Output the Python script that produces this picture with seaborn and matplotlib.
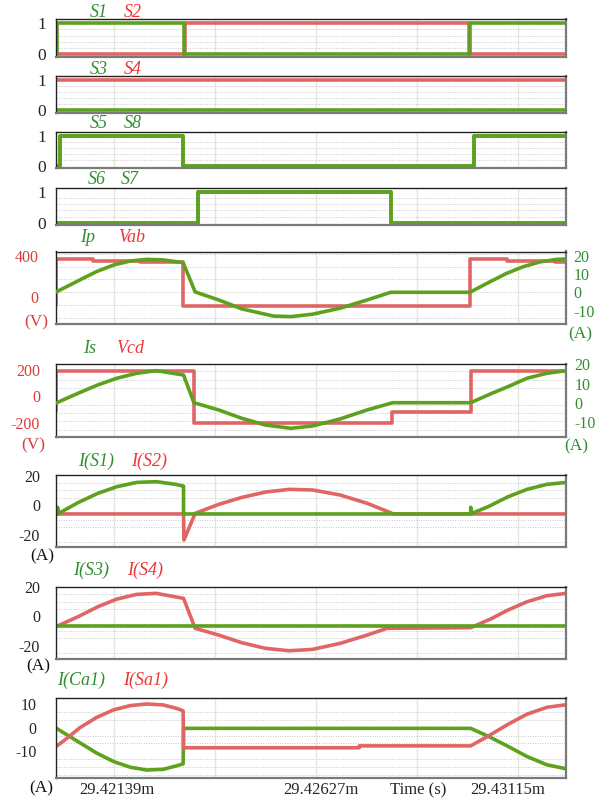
import matplotlib
matplotlib.use("Agg")
import matplotlib.pyplot as plt
from matplotlib.ticker import MultipleLocator, FixedLocator
from matplotlib.transforms import ScaledTranslation
import pandas as pd
import seaborn as sns

# ---------------- data (time in microseconds after 29.42 ms) ----------------
time_ticks = [1.405, 3.84, 6.28, 8.72, 11.16]
time_tick_labels = ["29.42139m", "", "29.42627m", "Time (s)", "29.43115m"]

# gate signals: value is held until the next time stamp
s1_t = [0.0, 0.03, 3.09, 10.00, 12.33]
s1_v = [0, 1, 0, 1, 1]
s2_t = [0.0, 0.005, 3.13, 9.97, 12.33]
s2_v = [1, 0, 1, 0, 0]
s3_t = [0.0, 12.33]
s3_v = [0, 0]
s4_t = [0.0, 12.33]
s4_v = [1, 1]
s5_t = [0.0, 0.11, 3.08, 10.10, 12.33]
s5_v = [0, 1, 0, 1, 1]
s8_t = [0.0, 0.11, 3.08, 10.10, 12.33]
s8_v = [0, 1, 0, 1, 1]
s6_t = [0.0, 3.43, 8.09, 12.33]
s6_v = [0, 1, 0, 0]
s7_t = [0.0, 3.43, 8.09, 12.33]
s7_v = [0, 1, 0, 0]

# primary bridge voltage (V, stepped) and primary current (A)
vab_t = [0.0, 0.02, 0.91, 2.04, 3.08, 10.00, 10.89, 12.06, 12.33]
vab_v = [-88, 368, 351, 336, -88, 368, 351, 336, 336]
ip_t = [0.0, 0.35, 0.67, 0.99, 1.40, 1.80, 2.20, 2.60, 3.08, 3.37, 3.94, 4.50,
        5.26, 5.68, 6.20, 6.87, 7.52, 8.09, 10.00, 10.49, 10.89, 11.29, 11.69,
        12.10, 12.33]
ip_v = [0.0, 4.0, 7.7, 11.3, 14.9, 17.1, 18.0, 17.7, 16.2, 0.2, -4.2, -9.1,
        -13.0, -13.3, -12.0, -8.7, -4.2, 0.0, 0.0, 5.8, 10.4, 14.0, 16.6,
        18.0, 18.2]

# secondary bridge voltage (V, stepped) and secondary current (A)
vcd_t = [0.0, 0.02, 3.345, 8.12, 10.02, 12.33]
vcd_v = [-116, 191, -204, -116, 191, 191]
is_t = [0.0, 0.54, 1.02, 1.48, 1.96, 2.43, 3.09, 3.34, 3.94, 4.50, 5.07, 5.68,
        6.20, 6.87, 7.52, 8.14, 10.02, 10.53, 10.92, 11.38, 11.86, 12.33]
is_v = [-0.3, 4.9, 9.3, 12.8, 15.4, 16.8, 14.5, 0.0, -3.8, -8.2, -11.7, -13.4,
        -12.2, -8.5, -3.8, 0.0, 0.0, 4.9, 8.4, 12.8, 15.4, 16.8]

# switch currents (A)
i_s1_t = [0.0, 0.05, 0.05, 0.07, 0.54, 1.02, 1.48, 1.96, 2.43, 2.90, 3.04,
          3.09, 3.09, 10.02, 10.02, 10.04, 10.44, 10.92, 11.38, 11.86, 12.33]
i_s1_v = [-5.9, -5.9, -1.4, -5.6, 1.7, 8.0, 12.5, 15.4, 15.9, 14.1, 13.2,
          12.9, -5.9, -5.9, -1.4, -5.6, -1.0, 5.7, 10.7, 14.1, 15.4]
i_s2_t = [0.0, 3.09, 3.10, 3.37, 3.94, 4.50, 5.07, 5.64, 6.20, 6.87, 7.52,
          8.09, 8.15, 12.33]
i_s2_v = [-5.9, -5.9, -23.5, -5.5, 0.6, 5.3, 8.9, 10.7, 10.3, 6.9, 1.3,
          -5.1, -5.9, -5.9]
i_s3_t = [0.0, 12.33]
i_s3_v = [-6.4, -6.4]
i_s4_t = [0.0, 0.54, 1.02, 1.48, 1.96, 2.43, 3.09, 3.37, 3.94, 4.50, 5.07,
          5.64, 6.20, 6.87, 7.52, 8.00, 10.02, 10.53, 10.92, 11.38, 11.86, 12.33]
i_s4_v = [-7.1, -0.3, 6.5, 11.7, 14.9, 15.6, 12.2, -8.1, -12.7, -17.9, -21.7,
          -23.3, -22.4, -18.3, -12.7, -8.1, -7.7, -1.4, 4.3, 9.9, 14.0, 15.6]

# auxiliary capacitor / switch currents (A)
i_ca1_t = [0.0, 0.19, 0.59, 0.99, 1.40, 1.80, 2.20, 2.60, 2.93, 3.08, 3.09,
           10.02, 10.44, 10.92, 11.38, 11.86, 12.33]
i_ca1_v = [0.0, -2.1, -6.4, -10.7, -14.3, -16.7, -17.9, -17.6, -16.1, -15.3,
           -0.3, -0.3, -3.6, -7.9, -12.2, -15.7, -17.4]
i_sa1_t = [0.0, 0.19, 0.59, 0.99, 1.40, 1.80, 2.20, 2.60, 2.93, 3.08, 3.09,
           7.33, 7.33, 10.02, 10.44, 10.92, 11.38, 11.86, 12.33]
i_sa1_v = [-8.1, -5.7, 0.0, 4.3, 7.5, 9.3, 10.0, 9.6, 8.1, 7.1, -8.5,
           -8.5, -7.7, -7.7, -3.6, 1.4, 5.7, 8.6, 9.7]

# ---------------- styling ----------------
sns.set_theme(style="white")
plt.rcParams["font.family"] = ["Liberation Serif", "DejaVu Serif"]

GREEN = "#5ea11f"
RED = "#e06666"
TXT_GREEN = "#2f8f2f"
TXT_RED = "#ee3535"
AX_RED = "#dd3b3b"
W_PX, H_PX = 612, 800
X0, X1 = 55.5, 566.4
XLIM = (0.0, 12.33)
LW = 2.6
TICK_FS = 11.5

fig = plt.figure(figsize=(W_PX / 100, H_PX / 100), dpi=100)
fig.patch.set_facecolor("white")


def make_axes(top, bottom):
    ax = fig.add_axes([X0 / W_PX, 1 - bottom / H_PX,
                       (X1 - X0) / W_PX, (bottom - top) / H_PX])
    ax.set_facecolor("white")
    ax.set_xlim(*XLIM)
    ax.xaxis.set_major_locator(FixedLocator(time_ticks))
    ax.set_xticklabels(time_tick_labels)
    ax.grid(axis="x", which="major", color="#e4e9dc", lw=1.0, ls="-")
    ax.tick_params(axis="both", which="both", length=0, labelsize=TICK_FS,
                   labelbottom=False)
    for side in ("top", "left"):
        ax.spines[side].set_color("#222222")
        ax.spines[side].set_linewidth(1.0)
    for side in ("right", "bottom"):
        ax.spines[side].set_color("#7a7a7a")
        ax.spines[side].set_linewidth(1.6)
    ax.set_axisbelow(True)
    return ax


def hgrid(ax, locator):
    ax.yaxis.set_minor_locator(locator)
    ax.grid(axis="y", which="minor", color="#c8c8c8", lw=0.7, ls=(0, (1, 1.5)))
    ax.grid(axis="y", which="major", visible=False)
    ax.tick_params(axis="y", which="minor", length=0)


def trace(ax, t, v, color, step=False, z=2):
    df = pd.DataFrame({"t": t, "v": v})
    sns.lineplot(data=df, x="t", y="v", ax=ax, color=color, lw=LW,
                 estimator=None, sort=False, legend=False, zorder=z,
                 solid_joinstyle="round", solid_capstyle="butt",
                 drawstyle="steps-post" if step else "default")
    ax.set_xlabel("")
    ax.set_ylabel("")


def label(x, y, s, color, size=13, style="italic"):
    fig.text(x / W_PX, 1 - y / H_PX, s, color=color, fontsize=size,
             style=style, ha="center", va="center")


def twin_right(ax, ylim, ticks, pad):
    axr = ax.twinx()
    axr.set_ylim(*ylim)
    axr.set_yticks(ticks)
    axr.set_yticklabels([str(k) for k in ticks])
    axr.tick_params(axis="y", which="both", length=0, pad=pad,
                    labelsize=TICK_FS, labelcolor=TXT_GREEN)
    axr.grid(False)
    for s in axr.spines.values():
        s.set_visible(False)
    return axr


# ---------- gate signal panels ----------
gate_panels = [
    ((18.7, 56.7), (-0.088, 1.15), [(s2_t, s2_v, RED), (s1_t, s1_v, GREEN)]),
    ((76.0, 112.7), (-0.09, 1.133), [(s4_t, s4_v, RED), (s3_t, s3_v, GREEN)]),
    ((132.3, 167.7), (-0.056, 1.11), [(s8_t, s8_v, GREEN), (s5_t, s5_v, GREEN)]),
    ((188.3, 225.0), (-0.075, 1.12), [(s7_t, s7_v, GREEN), (s6_t, s6_v, GREEN)]),
]
for (top, bot), ylim, series in gate_panels:
    ax = make_axes(top, bot)
    ax.set_ylim(*ylim)
    ax.set_yticks([0, 1])
    ax.set_yticklabels(["0", "1"])
    ax.tick_params(axis="y", pad=6.5, labelsize=12.5)
    hgrid(ax, MultipleLocator(0.2))
    for t, v, c in series:
        trace(ax, t, v, c, step=True)

label(99, 12.7, "S1", TXT_GREEN); label(132.5, 12.7, "S2", TXT_RED)
label(99, 69.3, "S3", TXT_GREEN); label(132.5, 69.3, "S4", TXT_RED)
label(99, 123.3, "S5", TXT_GREEN); label(132.5, 123.3, "S8", TXT_GREEN)
label(97, 179.3, "S6", TXT_GREEN); label(130, 179.3, "S7", TXT_GREEN)

# ---------- Ip / Vab ----------
ax = make_axes(251.5, 324.3)
ax.set_ylim(-269, 441)
ax.set_yticks([0, 400])
ax.set_yticklabels(["0", "400"])
ax.tick_params(axis="y", pad=12, labelcolor=AX_RED)
hgrid(ax, MultipleLocator(125, offset=43))
trace(ax, vab_t, vab_v, RED, step=True)
axr = twin_right(ax, (-17.5, 22.3), [-10, 0, 10, 20], 5)
trace(axr, ip_t, ip_v, GREEN)
label(88, 237, "Ip", TXT_GREEN); label(131.5, 237, "Vab", TXT_RED)
label(36, 322, "(V)", AX_RED, size=12.5, style="normal")
label(580, 334, "(A)", TXT_GREEN, size=12.5, style="normal")

# ---------- Is / Vcd ----------
ax = make_axes(364.0, 436.7)
ax.set_ylim(-305, 244)
ax.set_yticks([-200, 0, 200])
ax.set_yticklabels(["-200", "0", "200"])
ax.tick_params(axis="y", pad=11, labelcolor=AX_RED)
hgrid(ax, MultipleLocator(63))
trace(ax, vcd_t, vcd_v, RED, step=True)
axr = twin_right(ax, (-17.8, 20.26), [-10, 0, 10, 20], 6)
trace(axr, is_t, is_v, GREEN)
label(90, 348.3, "Is", TXT_GREEN); label(130.5, 348.3, "Vcd", TXT_RED)
label(33, 445, "(V)", AX_RED, size=12.5, style="normal")
label(576, 446, "(A)", TXT_GREEN, size=12.5, style="normal")

# ---------- switch currents ----------
current_panels = [
    ((475.0, 547.3), (-28.4, 20.4), [-20, 0, 20], 5, 11,
     [(i_s2_t, i_s2_v, RED), (i_s1_t, i_s1_v, GREEN)],
     [(95.7, 461.7, "I(S1)", TXT_GREEN), (149.4, 461.7, "I(S2)", TXT_RED)],
     (42, 556)),
    ((586.7, 659.0), (-28.9, 20.1), [-20, 0, 20], 5, 11,
     [(i_s4_t, i_s4_v, RED), (i_s3_t, i_s3_v, GREEN)],
     [(91.4, 570, "I(S3)", TXT_GREEN), (145.5, 570, "I(S4)", TXT_RED)],
     (38, 666.7)),
    ((698.3, 778.3), (-21.4, 12.4), [-10, 0, 10], 10 / 3, 13.5,
     [(i_ca1_t, i_ca1_v, GREEN), (i_sa1_t, i_sa1_v, RED)],
     [(81, 680, "I(Ca1)", TXT_GREEN), (145.5, 680, "I(Sa1)", TXT_RED)],
     (41, 788.3)),
]
for (top, bot), ylim, ticks, gstep, pad, series, names, unit in current_panels:
    ax = make_axes(top, bot)
    ax.set_ylim(*ylim)
    ax.set_yticks(ticks)
    ax.set_yticklabels([str(k) for k in ticks])
    ax.tick_params(axis="y", pad=pad)
    hgrid(ax, MultipleLocator(gstep))
    for t, v, c in series:
        trace(ax, t, v, c)
    for x, y, s, c in names:
        label(x, y, s, c)
    label(unit[0], unit[1], "(A)", "#111111", size=12.5, style="normal")

# time axis labels on the last panel only
ax.tick_params(axis="x", labelbottom=True, labelsize=12, pad=3.0)
fig.canvas.draw()
for lab, dx in zip(ax.get_xticklabels(), [3, 0, 5, 1, -10]):
    lab.set_transform(lab.get_transform() +
                      ScaledTranslation(dx / 100, 0, fig.dpi_scale_trans))

fig.savefig("out.png", dpi=100, facecolor="white")
